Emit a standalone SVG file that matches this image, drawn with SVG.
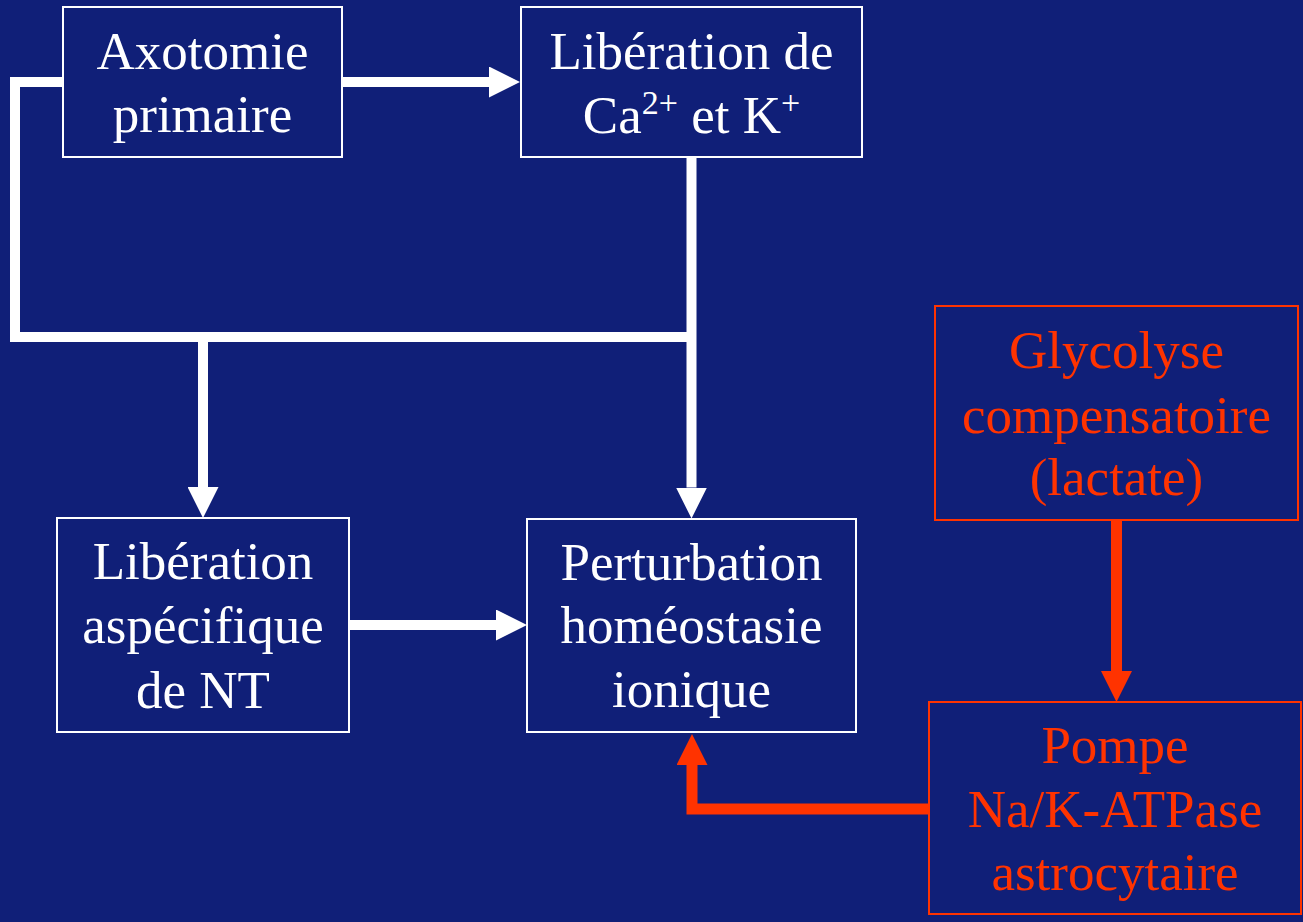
<svg xmlns="http://www.w3.org/2000/svg" width="1303" height="922" viewBox="0 0 1303 922">
  <defs>
    <style>
      .box { fill: none; stroke-width: 2; }
      .w { stroke: #ffffff; }
      .r { stroke: #ff3300; }
      .lbl { font-family: "Liberation Serif", "Times New Roman", serif; font-size: 53px; text-anchor: middle; }
      .tw { fill: #ffffff; }
      .tr { fill: #ff3300; }
      .conn { fill: none; stroke-linejoin: miter; stroke-linecap: butt; }
      .cw { stroke: #ffffff; stroke-width: 10; }
      .cr { stroke: #ff3300; stroke-width: 11; }
      .sup { font-size: 34px; }
    </style>
    <marker id="ahW" viewBox="0 0 31 31" markerWidth="31" markerHeight="31" markerUnits="userSpaceOnUse" refX="0" refY="15.5" orient="auto">
      <polygon points="0,0 31,15.5 0,31" fill="#ffffff"/>
    </marker>
    <marker id="ahR" viewBox="0 0 31 31" markerWidth="31" markerHeight="31" markerUnits="userSpaceOnUse" refX="0" refY="15.5" orient="auto">
      <polygon points="0,0 31,15.5 0,31" fill="#ff3300"/>
    </marker>
  </defs>
  <rect x="0" y="0" width="1303" height="922" fill="#101f78"/>

  <g id="connectors">
    <path class="conn cw" d="M342,82 H489" marker-end="url(#ahW)"/>
    <path class="conn cw" d="M63,82 H15 V337 H691.5"/>
    <path class="conn cw" d="M691.5,157 V487.5" marker-end="url(#ahW)"/>
    <path class="conn cw" d="M203,337 V487" marker-end="url(#ahW)"/>
    <path class="conn cw" d="M349,625 H496" marker-end="url(#ahW)"/>
    <path class="conn cr" d="M1116.5,520 V671" marker-end="url(#ahR)"/>
    <path class="conn cr" d="M929,809 H692 V765" marker-end="url(#ahR)"/>
  </g>

  <g id="axotomie">
    <rect class="box w" x="63" y="7" width="279" height="150" fill="#101f78"/>
    <text class="lbl tw" x="202.5" y="69">Axotomie</text>
    <text class="lbl tw" x="202.5" y="132">primaire</text>
  </g>

  <g id="liberation-ca-k">
    <rect class="box w" x="521" y="7" width="341" height="150" fill="#101f78"/>
    <text class="lbl tw" x="691.5" y="69">Libération de</text>
    <text class="lbl tw" x="691.5" y="132.5">Ca<tspan class="sup" dy="-19">2+</tspan><tspan dy="19"> et K</tspan><tspan class="sup" dy="-19">+</tspan></text>
  </g>

  <g id="liberation-nt">
    <rect class="box w" x="57" y="518" width="292" height="214" fill="#101f78"/>
    <text class="lbl tw" x="203" y="579">Libération</text>
    <text class="lbl tw" x="203" y="643">aspécifique</text>
    <text class="lbl tw" x="203" y="708">de NT</text>
  </g>

  <g id="perturbation">
    <rect class="box w" x="527" y="519" width="329" height="213" fill="#101f78"/>
    <text class="lbl tw" x="691.5" y="580">Perturbation</text>
    <text class="lbl tw" x="691.5" y="643">homéostasie</text>
    <text class="lbl tw" x="691.5" y="707">ionique</text>
  </g>

  <g id="glycolyse">
    <rect class="box r" x="935" y="306" width="363" height="214" fill="#101f78"/>
    <text class="lbl tr" x="1116.5" y="368">Glycolyse</text>
    <text class="lbl tr" x="1116.5" y="432.5">compensatoire</text>
    <text class="lbl tr" x="1116.5" y="495">(lactate)</text>
  </g>

  <g id="pompe">
    <rect class="box r" x="929" y="702" width="372" height="212" fill="#101f78"/>
    <text class="lbl tr" x="1115" y="763">Pompe</text>
    <text class="lbl tr" x="1115" y="827">Na/K-ATPase</text>
    <text class="lbl tr" x="1115" y="890">astrocytaire</text>
  </g>
</svg>
